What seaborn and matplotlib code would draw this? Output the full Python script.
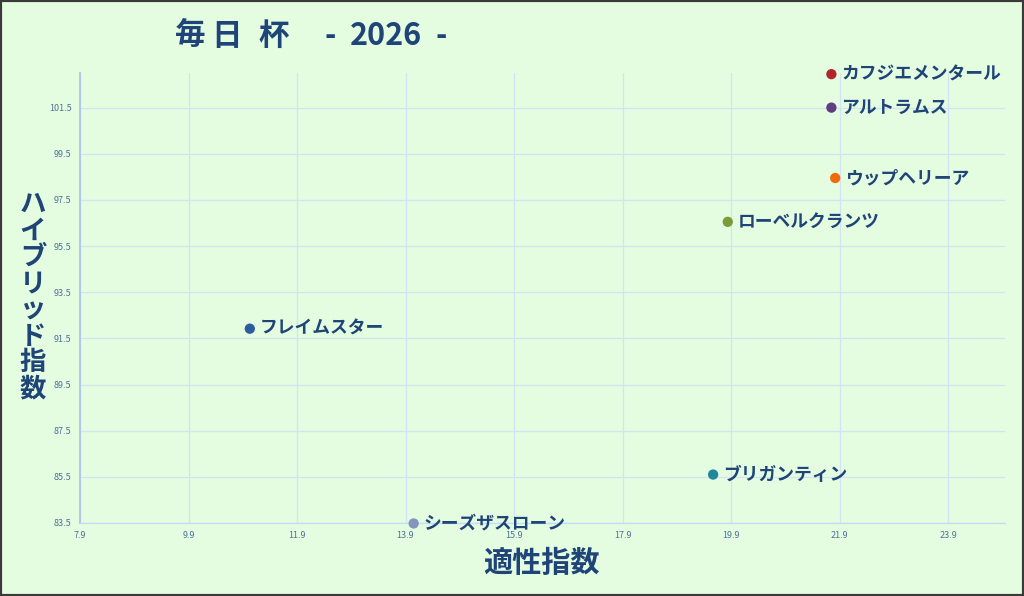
import matplotlib
matplotlib.use("Agg")
import matplotlib.pyplot as plt
import seaborn as sns
import pandas as pd
from matplotlib.patches import Rectangle

names = ["カフジエメンタール", "アルトラムス", "ウップヘリーア", "ローベルクランツ",
         "フレイムスター", "ブリガンティン", "シーズザスローン"]
aptitude = [21.75, 21.75, 21.82, 19.84, 11.03, 19.57, 14.05]
hybrid = [102.95, 101.5, 98.45, 96.55, 91.92, 85.6, 83.48]
colors = ["#b0262c", "#5f3f80", "#ee6a0a", "#7b9a38", "#2c5b9e", "#21879a", "#8596bd"]

x_ticks = [7.9, 9.9, 11.9, 13.9, 15.9, 17.9, 19.9, 21.9, 23.9]
y_ticks = [83.5, 85.5, 87.5, 89.5, 91.5, 93.5, 95.5, 97.5, 99.5, 101.5]

title_main = "毎日杯"
title_year = "2026"
x_label = "適性指数"
y_label = "ハイブリッド指数"

df = pd.DataFrame({"name": names, "x": aptitude, "y": hybrid})

sns.set_theme(style="white")
plt.rcParams["font.family"] = ["Noto Sans CJK JP", "DejaVu Sans"]

bg = "#e4fde1"
navy = "#1f4477"
fig = plt.figure(figsize=(10.24, 5.96), dpi=100, facecolor=bg)
ax = fig.add_axes([80 / 1024, 1 - 523 / 596, 925 / 1024, 450 / 596])
ax.set_facecolor(bg)

sns.scatterplot(data=df, x="x", y="y", hue="name", palette=colors, s=55,
                edgecolor="none", legend=False, ax=ax, zorder=3, clip_on=False)

for n, xv, yv in zip(names, aptitude, hybrid):
    ax.annotate(n, (xv, yv), xytext=(7, 0), textcoords="offset points",
                va="center", ha="left", fontsize=12.8, fontweight="bold",
                color=navy, zorder=4, annotation_clip=False)

ax.set_xlim(7.9, 24.95)
ax.set_ylim(83.5, 103.0)
ax.set_xticks(x_ticks)
ax.set_yticks(y_ticks)
ax.set_xticklabels([f"{v:.1f}" for v in x_ticks])
ax.set_yticklabels([f"{v:.1f}" for v in y_ticks])
ax.tick_params(axis="both", labelsize=6.5, colors="#50709a", length=0, pad=6)
ax.grid(True, color="#d3e3f3", linewidth=0.9)
ax.set_axisbelow(True)
for s in ["top", "right"]:
    ax.spines[s].set_visible(False)
ax.spines["left"].set_color("#a9c6ea")
ax.spines["left"].set_linewidth(1.3)
ax.spines["bottom"].set_color("#c6dcf3")
ax.spines["bottom"].set_linewidth(1.0)
ax.set_xlabel("")
ax.set_ylabel("")

fig.text(542 / 1024, 1 - 563 / 596, x_label, ha="center", va="center",
         fontsize=21, fontweight="bold", color=navy)
fig.text(33 / 1024, 1 - 297 / 596, "\n".join(y_label), ha="center", va="center",
         fontsize=19, fontweight="bold", color=navy, linespacing=0.97)

ty = 1 - 36 / 596
for ch, cx in zip(title_main, [190, 227, 274]):
    fig.text(cx / 1024, ty, ch, ha="center", va="center",
             fontsize=22, fontweight="bold", color=navy)
fig.text(330 / 1024, ty, "-", ha="center", va="center",
         fontsize=22, fontweight="bold", color=navy)
fig.text(386 / 1024, ty, title_year, ha="center", va="center",
         fontsize=22, fontweight="bold", color=navy)
fig.text(441 / 1024, ty, "-", ha="center", va="center",
         fontsize=22, fontweight="bold", color=navy)

fig.add_artist(Rectangle((0, 0), 1, 1, transform=fig.transFigure, fill=False,
                         edgecolor="#3a3a3a", linewidth=3))

fig.savefig("out.png", dpi=100, facecolor=bg)
